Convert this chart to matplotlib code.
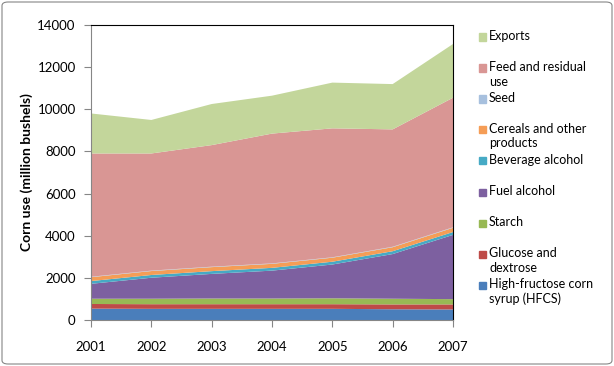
import matplotlib
matplotlib.use('Agg')
import matplotlib.pyplot as plt
from matplotlib.patches import Rectangle, FancyBboxPatch

# ── Datos (millones de bushels) ──
years = [2001, 2002, 2003, 2004, 2005, 2006, 2007]
hfcs = [540, 530, 530, 530, 530, 510, 500]
glucose = [220, 220, 220, 220, 220, 230, 240]
starch = [250, 260, 270, 270, 280, 270, 250]
fuel_alcohol = [707, 996, 1168, 1323, 1603, 2119, 3049]
beverage = [130, 130, 131, 132, 133, 135, 135]
cereals = [185, 187, 190, 190, 190, 190, 200]
seed = [20, 20, 21, 21, 20, 22, 24]
feed = [5850, 5560, 5770, 6160, 6120, 5570, 6150]
exports = [1900, 1590, 1950, 1800, 2170, 2150, 2550]

series = [hfcs, glucose, starch, fuel_alcohol, beverage, cereals, seed, feed, exports]
labels = ['High-fructose corn\nsyrup (HFCS)', 'Glucose and\ndextrose', 'Starch',
          'Fuel alcohol', 'Beverage alcohol', 'Cereals and other\nproducts', 'Seed',
          'Feed and residual\nuse', 'Exports']
colors = ['#4A7EBB', '#BE4B48', '#98B954', '#7D60A0', '#46AAC5', '#F59D56',
          '#A7C0DE', '#D99694', '#C3D69B']

plt.rcParams['font.family'] = ['Lato', 'DejaVu Sans']

fig = plt.figure(figsize=(6.14, 3.66), dpi=100)
ax = fig.add_axes([91 / 614, 1 - 320 / 366, (453 - 91) / 614, (320 - 25) / 366])

ax.stackplot(years, *series, colors=colors, linewidth=0)

ax.set_xlim(2001, 2007)
ax.set_ylim(0, 14000)
ax.set_xticks(years)
ax.set_yticks(range(0, 14001, 2000))
ax.tick_params(axis='both', direction='out', length=5, labelsize=9.5, color='#868686')
ax.tick_params(axis='x', pad=10)
ax.tick_params(axis='y', pad=6)
ax.set_ylabel('Corn use (million bushels)', fontsize=10, fontweight='bold', labelpad=3)

for side in ['top', 'right']:
    ax.spines[side].set_color('black')
    ax.spines[side].set_linewidth(0.8)
for side in ['left', 'bottom']:
    ax.spines[side].set_color('#868686')

# ── Leyenda manual (estilo Excel, ranuras iguales) ──
top = 1 - 37 / 366
step = 31 / 366
for i, (lab, col) in enumerate(zip(labels[::-1], colors[::-1])):
    y = top - i * step
    fig.patches.append(Rectangle((479 / 614, y - 3.5 / 366), 7 / 614, 7 / 366,
                                 transform=fig.transFigure, color=col))
    fig.text(489 / 614, y + 7 / 366, lab, fontsize=9, va='top', ha='left',
             linespacing=1.25)

# borde del área del gráfico
fig.patches.append(FancyBboxPatch((2 / 614, 2 / 366), 610 / 614, 362 / 366,
                                  boxstyle='round,pad=0,rounding_size=0.01',
                                  transform=fig.transFigure, fill=False,
                                  edgecolor='#868686', linewidth=0.8))

fig.savefig('out.png', dpi=100)
